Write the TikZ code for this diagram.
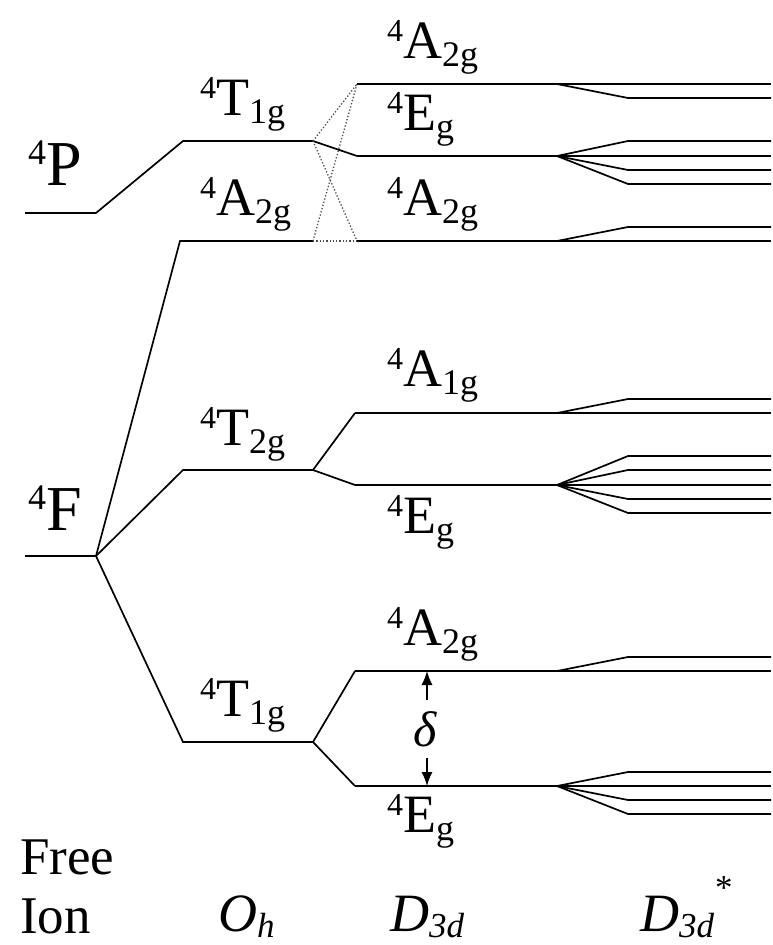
\documentclass[tikz,border=0pt]{standalone}
\usepackage{fontspec}
\setmainfont{Liberation Serif}
\usetikzlibrary{arrows.meta}
\newcommand{\Lab}[2]{{\fontsize{32}{32}\selectfont\raisebox{17pt}{4}}#1{\fontsize{36}{36}\selectfont\raisebox{-8pt}{#2}}}
\newcommand{\BigLab}[1]{{\fontsize{36}{36}\selectfont\raisebox{21pt}{4}}#1}
\begin{document}
\begin{tikzpicture}[x=1pt,y=-1pt,
  lev/.style={line width=1.7pt},
  dots/.style={dotted, line width=1.3pt, black!70},
  lab/.style={anchor=base west, inner sep=0pt, font=\fontsize{54}{54}\selectfont},
  biglab/.style={anchor=base west, inner sep=0pt, font=\fontsize{64}{64}\selectfont},
  axlab/.style={anchor=base west, inner sep=0pt, font=\fontsize{53}{53}\selectfont},
  axit/.style={axlab, font=\fontsize{54}{54}\selectfont\itshape},
  arr/.style={line width=1.3pt, -{Latex[length=14pt,width=11pt]}}]
\useasboundingbox (0,0) rectangle (772,945);
% key coordinates
\coordinate (P0) at (25,213); \coordinate (P1) at (96,213);
\coordinate (F0) at (25,556); \coordinate (F1) at (96,556);
\coordinate (T1a) at (183,141); \coordinate (T1b) at (313,141);
\coordinate (A2a) at (180,241); \coordinate (A2b) at (313,241);
\coordinate (T2a) at (183,470); \coordinate (T2b) at (313,470);
\coordinate (T3a) at (183,742); \coordinate (T3b) at (313,742);
\coordinate (dA2) at (357,84);  \coordinate (dE1) at (357,156); \coordinate (dA3) at (357,241);
\coordinate (dA1) at (355,413); \coordinate (dE2) at (355,485);
\coordinate (dA4) at (355,671); \coordinate (dE3) at (355,786);
% free ion
\draw[lev] (P0) -- (P1) -- (T1a) -- (T1b);
\draw[lev] (F0) -- (F1);
\draw[lev] (F1) -- (A2a) -- (A2b);
\draw[lev] (F1) -- (T2a) -- (T2b);
\draw[lev] (F1) -- (T3a) -- (T3b);
% Oh -> D3d
\draw[lev] (T1b) -- (dE1);
\draw[dots] (T1b) -- (dA2);
\draw[dots] (A2b) -- (dA2);
\draw[dots] (T1b) -- (dA3);
\draw[dots] (A2b) -- (dA3);
\draw[lev] (T2b) -- (dA1);
\draw[lev] (T2b) -- (dE2);
\draw[lev] (T3b) -- (dA4);
\draw[lev] (T3b) -- (dE3);
% D3d levels and D3d* splittings
\draw[lev] (dA2) -- (771,84);
\draw[lev] (557,84) -- (628,98) -- (771,98);
\draw[lev] (dE1) -- (771,156);
\foreach \y in {141,170,184} \draw[lev] (557,156) -- (628,\y) -- (771,\y);
\draw[lev] (dA3) -- (771,241);
\draw[lev] (557,241) -- (628,227) -- (771,227);
\draw[lev] (dA1) -- (771,413);
\draw[lev] (557,413) -- (628,399) -- (771,399);
\draw[lev] (dE2) -- (771,485);
\foreach \y in {456,470,499,513} \draw[lev] (557,485) -- (628,\y) -- (771,\y);
\draw[lev] (dA4) -- (771,671);
\draw[lev] (557,671) -- (628,657) -- (771,657);
\draw[lev] (dE3) -- (771,786);
\foreach \y in {772,800,814} \draw[lev] (557,786) -- (628,\y) -- (771,\y);
% labels
\node[biglab] (lP) at (28,185) {\BigLab{P}};
\node[biglab] (lF) at (28,530) {\BigLab{F}};
\node[lab] (oT1) at (200,115) {\Lab{T}{1g}};
\node[lab] (oA2) at (200,215) {\Lab{A}{2g}};
\node[lab] (oT2) at (200,445) {\Lab{T}{2g}};
\node[lab] (oT3) at (200,716) {\Lab{T}{1g}};
\node[lab] (dlA2) at (387,58) {\Lab{A}{2g}};
\node[lab] (dlE1) at (387,130) {\Lab{E}{g}};
\node[lab] (dlA3) at (387,215) {\Lab{A}{2g}};
\node[lab] (dlA1) at (387,386) {\Lab{A}{1g}};
\node[lab] (dlE2) at (387,533) {\Lab{E}{g}};
\node[lab] (dlA4) at (387,645) {\Lab{A}{2g}};
\node[lab] (dlE3) at (387,832) {\Lab{E}{g}};
% delta
\coordinate (dUp0) at (427,700); \coordinate (dDn0) at (427,758);
\draw[arr] (dUp0) -- (dA4 -| dUp0);
\draw[arr] (dDn0) -- (dE3 -| dDn0);
\node[inner sep=0pt, font=\fontsize{50}{50}\selectfont\itshape] (delta) at (425,729) {δ};
% axis labels
\node[axlab] (free) at (20,874) {Free};
\node[axlab] (ion) at (20,933) {Ion};
\node[axit] (oh) at (218,931) {O{\fontsize{35}{35}\selectfont\raisebox{-6pt}{h}}};
\node[axit] (d3d) at (390,931) {D{\fontsize{35}{35}\selectfont\raisebox{-6pt}{3d}}};
\node[axit] (d3ds) at (640,931) {D{\fontsize{35}{35}\selectfont\raisebox{-6pt}{3d}\kern1pt\raisebox{32pt}{\upshape *}}};
\end{tikzpicture}
\end{document}
